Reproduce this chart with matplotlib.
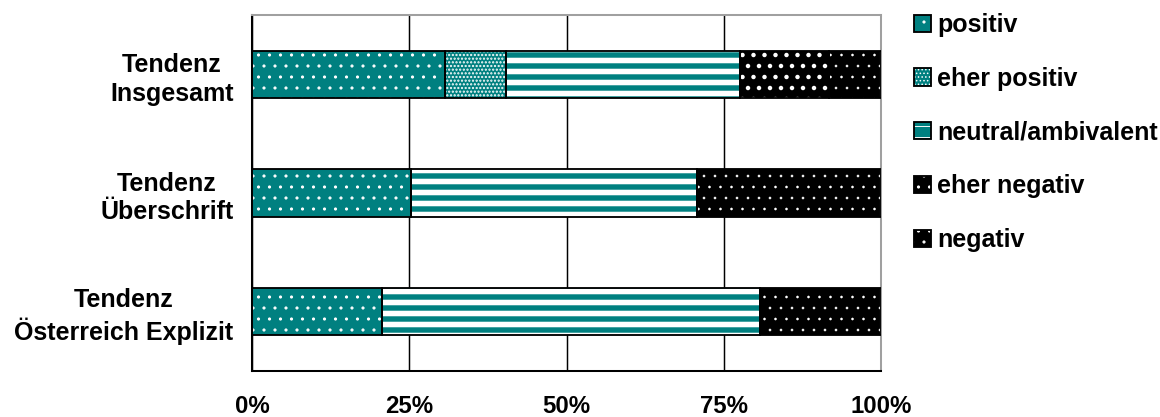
import matplotlib
matplotlib.use('Agg')
import matplotlib.pyplot as plt
from matplotlib.patches import Patch
from matplotlib.legend_handler import HandlerTuple
from matplotlib.ticker import FuncFormatter
import numpy as np

plt.rcParams['font.family'] = ['Liberation Sans', 'DejaVu Sans']
plt.rcParams['font.weight'] = 'bold'

# shares in percent, one value per row
categories = ['Tendenz\nInsgesamt', 'Tendenz\nÜberschrift', 'Tendenz\nÖsterreich Explizit']
series = ['positiv', 'eher positiv', 'neutral/ambivalent', 'eher negativ', 'negativ']
positiv = [30.7, 25.2, 20.6]
eher_positiv = [9.7, 0.0, 0.0]
neutral = [37.2, 45.5, 60.2]
eher_negativ = [14.1, 0.0, 0.0]
negativ = [8.3, 29.3, 19.2]
values = [positiv, eher_positiv, neutral, eher_negativ, negativ]
xticks = [0, 25, 50, 75, 100]

teal = '#008080'
# face colour, hatch, hatch line width (white hatch on top of the face)
styles = [
    (teal, '.', 1.0),
    (teal, '...', 1.6),
    (teal, '-', 6.0),
    ('black', '.', 2.4),
    ('black', '.', 0.4),
]


def hatch_lw(patch, lw):
    if hasattr(patch, 'set_hatch_linewidth'):
        patch.set_hatch_linewidth(lw)


dpi = 1160 / 17.4
fig = plt.figure(figsize=(17.4, 6.255), dpi=dpi)
ax = fig.add_axes([252 / 1160, 1 - 371 / 417, 629 / 1160, 356 / 417])

y = np.arange(len(categories))
left = np.zeros(len(categories))
handles = []
for name, vals, (fc, hatch, hlw) in zip(series, values, styles):
    vals = np.array(vals)
    bars = ax.barh(y, vals, 0.4, left=left, color=fc, edgecolor='white',
                   hatch=hatch, linewidth=0, zorder=2)
    for b in bars:
        hatch_lw(b, hlw)
    ax.barh(y, vals, 0.4, left=left, fill=False, edgecolor='black',
            linewidth=2.0, zorder=3)
    left += vals

    h_fill = Patch(facecolor=fc, edgecolor='white', hatch=hatch, linewidth=0)
    hatch_lw(h_fill, hlw)
    h_edge = Patch(fill=False, edgecolor='black', linewidth=2.0)
    handles.append((h_fill, h_edge))

ax.set_xlim(0, 100)
ax.set_ylim(2.5, -0.5)
ax.set_xticks(xticks)
ax.xaxis.set_major_formatter(FuncFormatter(lambda v, p: f'{v:.0f}%'))
ax.set_yticks(y, categories)
for t in ax.get_yticklabels():
    t.set_multialignment('center')
    t.set_linespacing(1.25)

ax.tick_params(axis='x', length=0, pad=26, labelsize=26)
ax.tick_params(axis='y', length=0, pad=20, labelsize=27)

ax.xaxis.grid(True, color='black', linewidth=1.6)
ax.set_axisbelow(True)

for side in ['left', 'bottom']:
    ax.spines[side].set_color('black')
    ax.spines[side].set_linewidth(2.2)
for side in ['top', 'right']:
    ax.spines[side].set_color('#a0a0a0')
    ax.spines[side].set_linewidth(2.2)

fig.legend(handles, series, handler_map={tuple: HandlerTuple(ndivide=1, pad=0)},
           loc='upper left', bbox_to_anchor=(914 / 1160, 0.969),
           frameon=False, fontsize=27, borderpad=0, borderaxespad=0,
           handlelength=0.68, handleheight=0.68, handletextpad=0.25,
           labelspacing=1.19)

fig.savefig('out.png', dpi=dpi)
